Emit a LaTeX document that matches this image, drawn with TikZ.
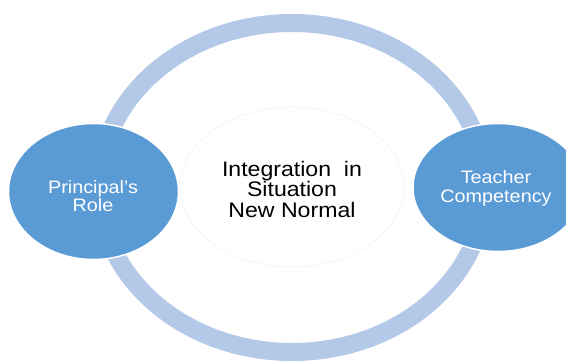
\documentclass[tikz,border=0pt]{standalone}
\usepackage{fontspec}
\setmainfont{Liberation Sans}[FakeStretch=1.1]
\definecolor{ringblue}{HTML}{B4C9E7}
\definecolor{nodeblue}{HTML}{5B9BD5}
\begin{document}
\begin{tikzpicture}[x=1pt,y=-1pt,
  ringstyle/.style={draw=ringblue, line width=18pt},
  bubblefill/.style={fill=nodeblue, draw=white, line width=1.5pt},
  label/.style={align=center, inner sep=0pt}]
\useasboundingbox (0,0) rectangle (566,363);
\fill[white] (0,0) rectangle (566,363);
\draw[ringstyle] (292,187.5) ellipse [x radius=193, y radius=164.5];
\draw[draw=black!5, line width=0.6pt] (292,187) ellipse [x radius=112, y radius=80];
\path[bubblefill] (93.5,191.5) ellipse [x radius=85, y radius=68];
\path[bubblefill] (498,187.5) ellipse [x radius=85, y radius=64];
\node[label, text=white, font=\fontsize{18}{18.5}\selectfont] (pr) at (93,196) {Principal’s\\Role};
\node[label, text=white, font=\fontsize{18}{19}\selectfont] (tc) at (496,188) {Teacher\\Competency};
\node[label, text=black, font=\fontsize{21}{20.5}\selectfont] (ct) at (292,189) {Integration\ \ in\\Situation\\New Normal};
\end{tikzpicture}
\end{document}
